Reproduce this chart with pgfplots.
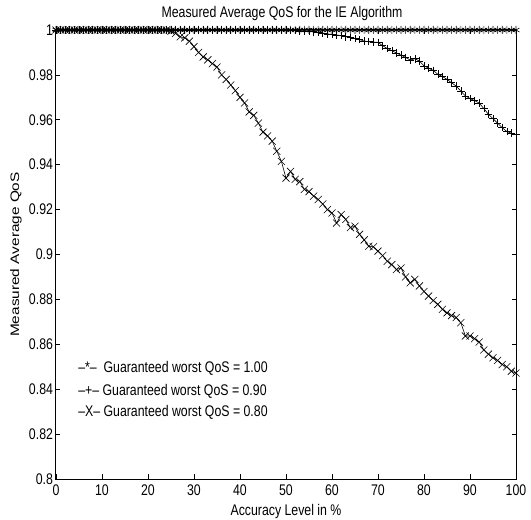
\documentclass[border=0pt]{standalone}
\usepackage{fontspec}
\setmainfont[FakeStretch=0.8]{Liberation Sans}
\newfontfamily\ylabfont[FakeStretch=1.25]{Liberation Sans}
\usepackage{pgfplots}
\pgfplotsset{compat=1.18}
\begin{document}
\begin{tikzpicture}
\begin{axis}[
  at={(0,0)}, anchor=south west,
  scale only axis, width=460pt, height=449pt,
  xmin=0, xmax=100, ymin=0.8, ymax=1,
  xtick={0,10,...,100},
  ytick={0.8,0.82,0.84,0.86,0.88,0.9,0.92,0.94,0.96,0.98,1},
  yticklabels={0.8,0.82,0.84,0.86,0.88,0.9,0.92,0.94,0.96,0.98,1},
  /pgf/number format/assume math mode=true,
  tick align=inside, major tick length=4.5pt,
  tick style={black, line width=0.6pt},
  axis line style={line width=1pt},
  clip=false,
  font=\fontsize{15.4}{17}\selectfont,
  ticklabel style={font=\fontsize{15.4}{17}\selectfont},
  xticklabel style={yshift=-2.5pt},
  yticklabel style={xshift=0.5pt},
  every axis x label/.style={at={(axis description cs:0.5,-0.0824)}, anchor=base},
  every axis y label/.style={at={(axis description cs:-0.0804,0.5)}, rotate=90, anchor=base, font=\ylabfont\fontsize{12.3}{14}\selectfont},
  every axis title/.style={at={(axis description cs:0.5,1)}, anchor=base, yshift=12pt, xshift=-4pt},
  title={Measured Average QoS for the IE Algorithm},
  xlabel={Accuracy Level in \%},
  ylabel={Measured Average QoS},
]
% Guaranteed worst QoS = 1.00
\addplot[black, line width=0.6pt, mark=asterisk, mark size=4pt, mark options={solid, line width=0.6pt}] coordinates {
(0,1)(1,1)(2,1)(3,1)(4,1)(5,1)(6,1)(7,1)(8,1)(9,1)
(10,1)(11,1)(12,1)(13,1)(14,1)(15,1)(16,1)(17,1)(18,1)(19,1)
(20,1)(21,1)(22,1)(23,1)(24,1)(25,1)(26,1)(27,1)(28,1)(29,1)
(30,1)(31,1)(32,1)(33,1)(34,1)(35,1)(36,1)(37,1)(38,1)(39,1)
(40,1)(41,1)(42,1)(43,1)(44,1)(45,1)(46,1)(47,1)(48,1)(49,1)
(50,1)(51,1)(52,1)(53,1)(54,1)(55,1)(56,1)(57,1)(58,1)(59,1)
(60,1)(61,1)(62,1)(63,1)(64,1)(65,1)(66,1)(67,1)(68,1)(69,1)
(70,1)(71,1)(72,1)(73,1)(74,1)(75,1)(76,1)(77,1)(78,1)(79,1)
(80,1)(81,1)(82,1)(83,1)(84,1)(85,1)(86,1)(87,1)(88,1)(89,1)
(90,1)(91,1)(92,1)(93,1)(94,1)(95,1)(96,1)(97,1)(98,1)(99,1)
(100,1)
};
% Guaranteed worst QoS = 0.90
\addplot[black, line width=0.6pt, mark=+, mark size=3.8pt, mark options={solid, line width=0.6pt}] coordinates {
(0,1)(1,1)(2,1)(3,1)(4,1)(5,1)(6,1)(7,1)(8,1)(9,1)
(10,1)(11,1)(12,1)(13,1)(14,1)(15,1)(16,1)(17,1)(18,1)(19,1)
(20,1)(21,1)(22,1)(23,1)(24,1)(25,1)(26,1)(27,1)(28,1)(29,1)
(30,1)(31,1)(32,1)(33,1)(34,1)(35,1)(36,1)(37,1)(38,1)(39,1)
(40,1)(41,1)(42,1)(43,1)(44,1)(45,1)(46,1)(47,1)(48,1)(49,1)
(50,1)(51,0.9998)(52,0.9997)(53,0.9996)(54,0.9994)(55,0.9993)(56,0.9992)(57,0.999)(58,0.9986)(59,0.9983)
(60,0.998)(61,0.9978)(62,0.9975)(63,0.997)(64,0.9967)(65,0.9962)(66,0.9957)(67,0.9951)(68,0.9948)(69,0.9946)
(70,0.9945)(71,0.993)(72,0.9918)(73,0.9908)(74,0.9898)(75,0.9888)(76,0.9878)(77,0.9866)(78,0.9872)(79,0.9862)
(80,0.984)(81,0.983)(82,0.982)(83,0.9803)(84,0.9793)(85,0.978)(86,0.9765)(87,0.975)(88,0.9728)(89,0.9706)
(90,0.9695)(91,0.9685)(92,0.9675)(93,0.965)(94,0.9625)(95,0.9605)(96,0.9585)(97,0.9565)(98,0.9548)(99,0.954)
(100,0.9535)
};
% Guaranteed worst QoS = 0.80
\addplot[black, line width=0.6pt, mark=x, mark size=5pt, mark options={solid, line width=0.6pt}] coordinates {
(0,1)(1,1)(2,1)(3,1)(4,1)(5,1)(6,1)(7,1)(8,1)(9,1)
(10,1)(11,1)(12,1)(13,1)(14,1)(15,1)(16,1)(17,1)(18,1)(19,1)
(20,1)(21,1)(22,1)(23,1)(24,1)(25,0.9995)(26,0.9985)(27,0.997)(28,0.9965)(29,0.995)
(30,0.9926)(31,0.99)(32,0.988)(33,0.9867)(34,0.985)(35,0.9835)(36,0.98)(37,0.978)(38,0.9755)(39,0.973)
(40,0.97)(41,0.9675)(42,0.9635)(43,0.962)(44,0.9585)(45,0.9545)(46,0.9528)(47,0.9505)(48,0.946)(49,0.9415)
(50,0.934)(51,0.937)(52,0.9335)(53,0.9325)(54,0.929)(55,0.928)(56,0.926)(57,0.9245)(58,0.9225)(59,0.92)
(60,0.9185)(61,0.914)(62,0.9178)(63,0.9156)(64,0.912)(65,0.9126)(66,0.909)(67,0.9065)(68,0.9037)(69,0.9034)
(70,0.9015)(71,0.8995)(72,0.897)(73,0.8955)(74,0.8933)(75,0.894)(76,0.89)(77,0.8874)(78,0.8889)(79,0.886)
(80,0.8835)(81,0.8815)(82,0.8795)(83,0.8778)(84,0.8756)(85,0.874)(86,0.8728)(87,0.8719)(88,0.8696)(89,0.8637)
(90,0.8637)(91,0.8625)(92,0.861)(93,0.8575)(94,0.8556)(95,0.854)(96,0.8528)(97,0.851)(98,0.85)(99,0.848)
(100,0.8472)
};
\node[anchor=base west, inner sep=0pt, font=\fontsize{15.4}{17}\selectfont] at (axis cs:4.8,0.8476) {\textendash*\textendash\ \ Guaranteed worst QoS = 1.00};
\node[anchor=base west, inner sep=0pt, font=\fontsize{15.4}{17}\selectfont] at (axis cs:4.8,0.8373) {\textendash+\textendash\ Guaranteed worst QoS = 0.90};
\node[anchor=base west, inner sep=0pt, font=\fontsize{15.4}{17}\selectfont] at (axis cs:4.8,0.828) {\textendash X\textendash\ Guaranteed worst QoS = 0.80};
\end{axis}
\pgfresetboundingbox
\useasboundingbox (-56pt,-41pt) rectangle (475pt,479pt);
\end{tikzpicture}
\end{document}
